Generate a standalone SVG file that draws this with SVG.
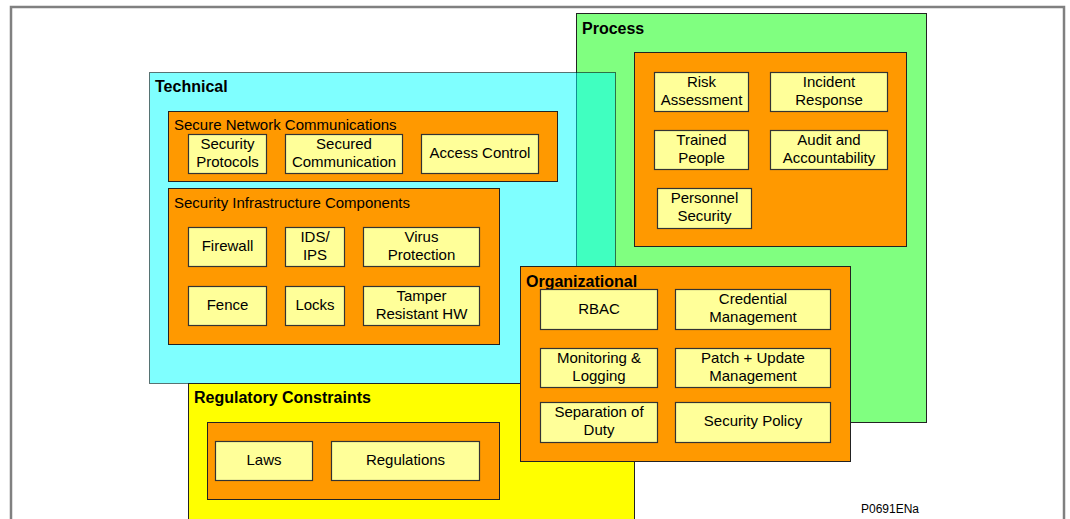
<svg xmlns="http://www.w3.org/2000/svg" width="1070" height="519" viewBox="0 0 1070 519">
<style>
.frame{fill:#fff;stroke:#808080;stroke-width:2.5}
.grp{stroke:#222;stroke-width:1}
.proc{fill:#80ff80}
.tech{fill:#00ffff;fill-opacity:0.5;stroke:#000;stroke-opacity:0.55}
.reg{fill:#ffff00}
.org{fill:#ff9900;stroke:#222;stroke-width:1}
.inner{fill:#ff9900;stroke:#222;stroke-width:1}
.node rect{fill:#ffff99;stroke:#333;stroke-width:1.2}
.node text{transform:translateY(-1px)}
text{font-family:"Liberation Sans",Arial,sans-serif;fill:#000}
.t{font-size:15px;text-anchor:middle}
.title{font-size:16px;font-weight:bold}
.sub{font-size:15px}
.code{font-size:12px}
</style>
<rect class="frame" x="11" y="7" width="1053" height="540"/>

<g id="process">
<rect class="grp proc" x="576.5" y="13.5" width="350" height="409"/>
<text class="title" x="582" y="34">Process</text>
<rect class="inner" x="634.5" y="52.5" width="272" height="194"/>
</g>
<g id="risk-assessment" class="node"><rect x="654.5" y="72.5" width="94" height="39"/><text class="t" x="701.5" y="87.5">Risk</text><text class="t" x="701.5" y="105.5">Assessment</text></g>
<g id="incident-response" class="node"><rect x="770.5" y="72.5" width="117" height="39"/><text class="t" x="829" y="87.5">Incident</text><text class="t" x="829" y="105.5">Response</text></g>
<g id="trained-people" class="node"><rect x="654.5" y="130.5" width="94" height="39"/><text class="t" x="701.5" y="145.5">Trained</text><text class="t" x="701.5" y="163.5">People</text></g>
<g id="audit" class="node"><rect x="770.5" y="130.5" width="117" height="39"/><text class="t" x="829" y="145.5">Audit and</text><text class="t" x="829" y="163.5">Accountability</text></g>
<g id="personnel-security" class="node"><rect x="657.5" y="188.5" width="94" height="40"/><text class="t" x="704.5" y="204">Personnel</text><text class="t" x="704.5" y="222">Security</text></g>

<g id="technical">
<rect class="tech" x="149.5" y="72.5" width="466" height="311"/>
<text class="title" x="155" y="92">Technical</text>
</g>
<g id="secure-network-communications">
<rect class="inner" x="168.5" y="111.5" width="389" height="70"/>
<text class="sub" x="174" y="130">Secure Network Communications</text>
</g>
<g id="security-protocols" class="node"><rect x="188.5" y="134.5" width="78" height="39"/><text class="t" x="227.5" y="149.5">Security</text><text class="t" x="227.5" y="167.5">Protocols</text></g>
<g id="secured-communication" class="node"><rect x="285.5" y="134.5" width="117" height="39"/><text class="t" x="344" y="149.5">Secured</text><text class="t" x="344" y="167.5">Communication</text></g>
<g id="access-control" class="node"><rect x="421.5" y="134.5" width="117" height="39"/><text class="t" x="480" y="158.5">Access Control</text></g>

<g id="security-infrastructure-components">
<rect class="inner" x="168.5" y="188.5" width="331" height="156"/>
<text class="sub" x="174" y="208">Security Infrastructure Components</text>
</g>
<g id="firewall" class="node"><rect x="188.5" y="227.5" width="78" height="39"/><text class="t" x="227.5" y="251.5">Firewall</text></g>
<g id="ids-ips" class="node"><rect x="285.5" y="227.5" width="59" height="39"/><text class="t" x="315" y="242.5">IDS/</text><text class="t" x="315" y="260.5">IPS</text></g>
<g id="virus-protection" class="node"><rect x="363.5" y="227.5" width="116" height="39"/><text class="t" x="421.5" y="242.5">Virus</text><text class="t" x="421.5" y="260.5">Protection</text></g>
<g id="fence" class="node"><rect x="188.5" y="286.5" width="78" height="39"/><text class="t" x="227.5" y="310.5">Fence</text></g>
<g id="locks" class="node"><rect x="285.5" y="286.5" width="59" height="39"/><text class="t" x="315" y="310.5">Locks</text></g>
<g id="tamper-resistant-hw" class="node"><rect x="363.5" y="286.5" width="116" height="39"/><text class="t" x="421.5" y="301.5">Tamper</text><text class="t" x="421.5" y="319.5">Resistant HW</text></g>

<g id="regulatory-constraints">
<rect class="grp reg" x="188.5" y="383.5" width="446" height="160"/>
<text class="title" x="194" y="403">Regulatory Constraints</text>
<rect class="inner" x="207.5" y="422.5" width="292" height="77"/>
</g>
<g id="laws" class="node"><rect x="215.5" y="441.5" width="97" height="39"/><text class="t" x="264" y="465.5">Laws</text></g>
<g id="regulations" class="node"><rect x="331.5" y="441.5" width="148" height="39"/><text class="t" x="405.5" y="465.5">Regulations</text></g>

<g id="organizational">
<rect class="org" x="520.5" y="266.5" width="330" height="195"/>
<text class="title" x="526" y="287">Organizational</text>
</g>
<g id="rbac" class="node"><rect x="540.5" y="289.5" width="117" height="40"/><text class="t" x="599" y="314.5">RBAC</text></g>
<g id="credential-management" class="node"><rect x="675.5" y="289.5" width="155" height="40"/><text class="t" x="753" y="305">Credential</text><text class="t" x="753" y="323">Management</text></g>
<g id="monitoring-logging" class="node"><rect x="540.5" y="348.5" width="117" height="39"/><text class="t" x="599" y="363.5">Monitoring &amp;</text><text class="t" x="599" y="381.5">Logging</text></g>
<g id="patch-update-management" class="node"><rect x="675.5" y="348.5" width="155" height="39"/><text class="t" x="753" y="363.5">Patch + Update</text><text class="t" x="753" y="381.5">Management</text></g>
<g id="separation-of-duty" class="node"><rect x="540.5" y="402.5" width="117" height="40"/><text class="t" x="599" y="418">Separation of</text><text class="t" x="599" y="436">Duty</text></g>
<g id="security-policy" class="node"><rect x="675.5" y="402.5" width="155" height="40"/><text class="t" x="753" y="427">Security Policy</text></g>

<g id="connectors"></g>
<text class="code" x="861" y="513">P0691ENa</text>
</svg>
